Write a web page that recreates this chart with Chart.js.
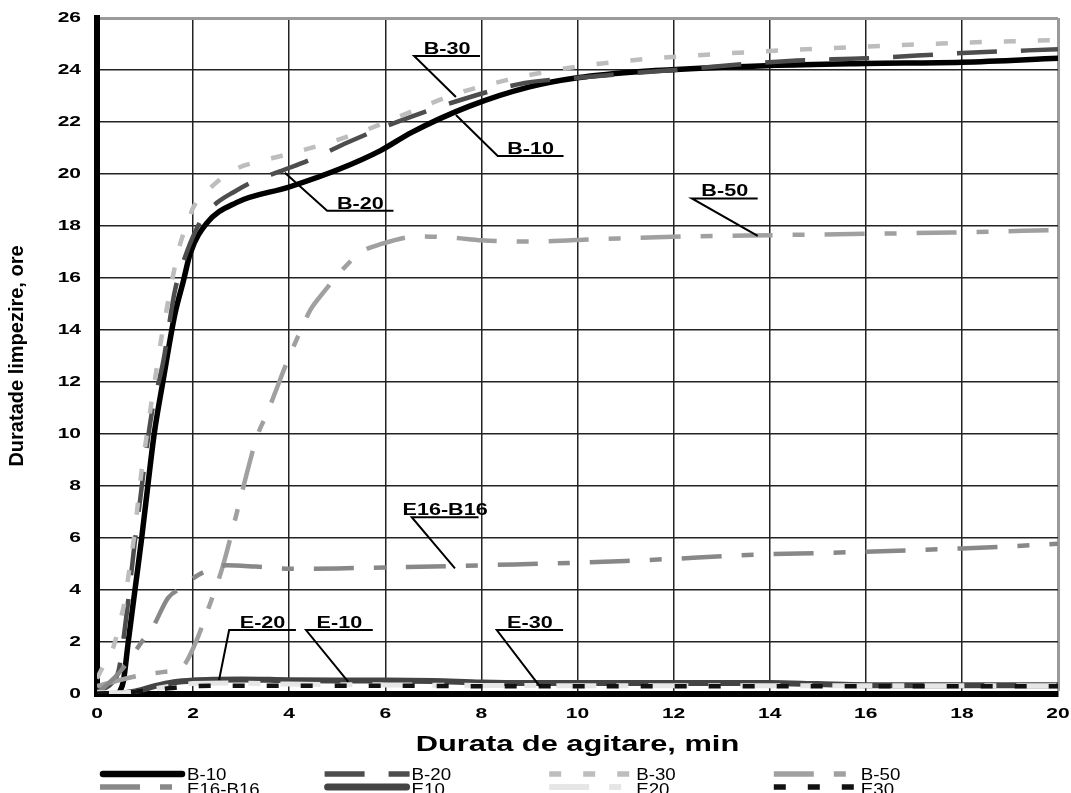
<!DOCTYPE html>
<html>
<head>
<meta charset="utf-8">
<script src="https://cdn.jsdelivr.net/npm/chart.js@4.4.1/dist/chart.umd.min.js"></script>
<style>
  html, body { margin: 0; padding: 0; background: #fff; }
  #wrap { width: 1071px; height: 793px; }
</style>
</head>
<body>
<div id="wrap"><canvas id="chart" width="1071" height="793"></canvas></div>
<script>
// tick values
const xTicks = [0, 2, 4, 6, 8, 10, 12, 14, 16, 18, 20];
const yTicks = [0, 2, 4, 6, 8, 10, 12, 14, 16, 18, 20, 22, 24, 26];

// series (x = minutes, y = hours)
const b10X = [0.45, 0.55, 0.65, 0.79, 0.93, 1.07, 1.19, 1.38, 1.62, 1.8, 1.94, 2.28, 2.9, 4.0, 5.06, 5.9, 6.55, 7.74, 9.0, 10.0, 11.4, 14, 16, 18, 20];
const b10Y = [0, 0.5, 2, 4, 6, 8.2, 10, 12.1, 14.6, 15.9, 16.95, 18.1, 18.9, 19.5, 20.2, 20.9, 21.6, 22.6, 23.35, 23.7, 23.95, 24.17, 24.25, 24.3, 24.45];

const b20X = [0, 0.3, 0.45, 0.55, 0.65, 0.79, 0.9, 1.0, 1.14, 1.38, 1.62, 1.87, 2.0, 2.21, 2.5, 2.84, 3.3, 3.88, 4.5, 5.2, 6.1, 7.4, 8.9, 10, 12, 14.4, 16, 18, 20];
const b20Y = [0.1, 0.4, 0.9, 2.1, 3.6, 5.9, 7.5, 9.0, 10.8, 12.8, 15.5, 17.0, 17.6, 18.35, 18.9, 19.3, 19.75, 20.15, 20.6, 21.2, 21.9, 22.75, 23.5, 23.7, 24.0, 24.35, 24.45, 24.65, 24.8];

const b30X = [0, 0.1, 0.34, 0.48, 0.58, 0.65, 0.79, 0.86, 0.93, 1.0, 1.07, 1.14, 1.24, 1.35, 1.45, 1.54, 1.73, 1.9, 2.0, 2.35, 2.84, 3.53, 4.16, 4.99, 5.75, 6.34, 7.5, 8.5, 9.55, 10.5, 11.6, 13.7, 16, 18, 20];
const b30Y = [0.6, 0.96, 1.8, 2.8, 3.6, 4.5, 6.3, 7.5, 8.6, 9.5, 10.4, 11.3, 12.5, 13.8, 14.8, 15.7, 17.3, 18.2, 18.7, 19.45, 20.15, 20.55, 20.85, 21.3, 21.8, 22.25, 23.1, 23.6, 24.0, 24.25, 24.45, 24.7, 24.9, 25.05, 25.15];

const b50X = [0, 0.5, 1.0, 1.4, 1.7, 1.83, 2.07, 2.32, 2.6, 2.9, 3.12, 3.33, 3.54, 3.75, 3.96, 4.17, 4.45, 4.65, 5.2, 5.5, 5.9, 6.7, 7.4, 8, 9, 10.5, 12.3, 14.1, 16, 17.8, 20];
const b50Y = [0.3, 0.55, 0.75, 0.85, 0.95, 1.15, 2.05, 3.3, 4.8, 6.9, 8.5, 9.9, 10.8, 11.8, 12.8, 13.7, 14.8, 15.3, 16.5, 17.0, 17.3, 17.6, 17.55, 17.45, 17.4, 17.5, 17.6, 17.65, 17.7, 17.75, 17.85];

const e16X = [0, 0.5, 0.93, 1.17, 1.48, 1.77, 2.04, 2.3, 2.7, 3.3, 4, 5, 6, 7, 8, 9, 10, 11, 12, 13, 14, 15, 16, 17, 18, 19, 20];
const e16Y = [0, 0.9, 2.0, 2.6, 3.7, 4.1, 4.5, 4.75, 4.95, 4.9, 4.82, 4.83, 4.87, 4.9, 4.95, 5.0, 5.05, 5.12, 5.2, 5.3, 5.38, 5.42, 5.47, 5.53, 5.6, 5.68, 5.78];

const e10X = [0, 0.5, 0.8, 1.2, 1.6, 2, 2.5, 3, 4, 5, 6, 7, 8, 9, 10, 12, 14, 15, 16, 18, 20];
const e10Y = [0, 0.02, 0.1, 0.3, 0.45, 0.52, 0.55, 0.56, 0.53, 0.52, 0.52, 0.5, 0.44, 0.42, 0.42, 0.42, 0.42, 0.38, 0.34, 0.34, 0.34];

const e20X = [0, 0.5, 0.8, 1.2, 1.6, 2, 3, 4, 6, 8, 10, 12, 14, 16, 18, 20];
const e20Y = [0.05, 0.05, 0.08, 0.2, 0.32, 0.4, 0.42, 0.38, 0.35, 0.33, 0.32, 0.32, 0.32, 0.32, 0.32, 0.32];

const e30X = [0, 0.5, 1, 1.5, 2, 3, 4, 6, 8, 10, 12, 14, 16, 18, 20];
const e30Y = [0.02, 0.05, 0.12, 0.22, 0.3, 0.32, 0.32, 0.32, 0.3, 0.3, 0.3, 0.3, 0.3, 0.3, 0.3];

// callout labels: underline from ux[0] to ux[1] at uy, leader to tip (all in data units)
const notes = [
  { text: 'B-30', ux: [6.6, 7.97], uy: 24.54, tip: [7.47, 22.96] },
  { text: 'B-10', ux: [8.34, 9.71], uy: 20.69, tip: [7.47, 22.27] },
  { text: 'B-20', ux: [4.79, 6.17], uy: 18.59, tip: [3.91, 20.05] },
  { text: 'B-50', ux: [12.38, 13.75], uy: 19.06, tip: [13.75, 17.62] },
  { text: 'E16-B16', ux: [6.55, 7.94], uy: 6.8, tip: [7.45, 4.83] },
  { text: 'E-20', ux: [2.75, 4.14], uy: 2.46, tip: [2.54, 0.54] },
  { text: 'E-10', ux: [4.35, 5.74], uy: 2.46, tip: [5.23, 0.47] },
  { text: 'E-30', ux: [8.32, 9.7], uy: 2.46, tip: [9.22, 0.28] }
];

function pts(xs, ys) {
  return xs.map((x, i) => ({ x: x, y: ys[i] }));
}

const series = [
  { label: 'B-10', data: pts(b10X, b10Y), color: '#000000', width: 5.5, dash: [], cap: 'round' },
  { label: 'B-20', data: pts(b20X, b20Y), color: '#4d4d4d', width: 4.5, dash: [40, 24], cap: 'butt' },
  { label: 'B-30', data: pts(b30X, b30Y), color: '#bdbdbd', width: 4.5, dash: [12, 22], cap: 'butt' },
  { label: 'B-50', data: pts(b50X, b50Y), color: '#a0a0a0', width: 4.5, dash: [40, 20, 12, 20], cap: 'butt' },
  { label: 'E16-B16', data: pts(e16X, e16Y), color: '#888888', width: 4.5, dash: [40, 20, 12, 20], cap: 'butt' },
  { label: 'E10', data: pts(e10X, e10Y), color: '#444444', width: 6, dash: [], cap: 'round' },
  { label: 'E20', data: pts(e20X, e20Y), color: '#e6e6e6', width: 5, dash: [40, 20, 12, 20], cap: 'butt' },
  { label: 'E30', data: pts(e30X, e30Y), color: '#111111', width: 4.5, dash: [12, 22], cap: 'butt' }
];

function stretchText(ctx, text, x, y, sx, align) {
  ctx.save();
  ctx.translate(x, y);
  ctx.scale(sx, 1);
  ctx.textAlign = align;
  ctx.fillText(text, 0, 0);
  ctx.restore();
}

// tick labels, axis titles, callouts and legend, drawn with the horizontal stretch of the original
const textPlugin = {
  id: 'textPlugin',
  afterDraw(chart) {
    const ctx = chart.ctx;
    const xs = chart.scales.x;
    const ys = chart.scales.y;
    const area = chart.chartArea;
    ctx.save();
    ctx.fillStyle = '#000';
    ctx.textBaseline = 'middle';

    ctx.font = 'bold 15px "Liberation Sans", Arial, sans-serif';
    yTicks.forEach(v => stretchText(ctx, String(v), 81, ys.getPixelForValue(v), 1.4, 'right'));
    xTicks.forEach(v => stretchText(ctx, String(v), xs.getPixelForValue(v), 714, 1.4, 'center'));

    ctx.font = 'bold 22px "Liberation Sans", Arial, sans-serif';
    stretchText(ctx, 'Durata de agitare, min', (area.left + area.right) / 2, 745, 1.4, 'center');

    ctx.save();
    ctx.translate(17, (area.top + area.bottom) / 2);
    ctx.rotate(-Math.PI / 2);
    ctx.font = 'bold 20px "Liberation Sans", Arial, sans-serif';
    ctx.textAlign = 'center';
    ctx.fillText('Duratade limpezire, ore', 0, 0);
    ctx.restore();

    // callouts
    ctx.strokeStyle = '#000';
    ctx.lineWidth = 2;
    ctx.font = 'bold 16px "Liberation Sans", Arial, sans-serif';
    ctx.textBaseline = 'alphabetic';
    notes.forEach(n => {
      const x0 = xs.getPixelForValue(n.ux[0]);
      const x1 = xs.getPixelForValue(n.ux[1]);
      const y = ys.getPixelForValue(n.uy);
      ctx.beginPath();
      ctx.moveTo(xs.getPixelForValue(n.tip[0]), ys.getPixelForValue(n.tip[1]));
      ctx.lineTo(x0, y);
      ctx.lineTo(x1, y);
      ctx.stroke();
      stretchText(ctx, n.text, (x0 + x1) / 2, y - 2, 1.35, 'center');
    });

    // legend
    ctx.textBaseline = 'middle';
    ctx.font = '17px "Liberation Sans", Arial, sans-serif';
    chart.data.datasets.forEach((ds, i) => {
      const col = i % 4;
      const row = Math.floor(i / 4);
      const lx = 100 + col * 224.6;
      const ly = row === 0 ? 774 : 787;
      ctx.save();
      ctx.strokeStyle = ds.borderColor;
      ctx.lineWidth = ds.borderWidth + 1;
      ctx.lineCap = ds.borderCapStyle;
      ctx.setLineDash(ds.borderDash);
      ctx.beginPath();
      ctx.moveTo(lx + (ds.borderCapStyle === 'round' ? 3 : 0), ly);
      ctx.lineTo(lx + 85 - (ds.borderCapStyle === 'round' ? 3 : 0), ly);
      ctx.stroke();
      ctx.restore();
      stretchText(ctx, ds.label, lx + 87, row === 0 ? 775 : 790, 1.1, 'left');
    });
    ctx.restore();
  }
};

new Chart(document.getElementById('chart'), {
  type: 'line',
  data: {
    datasets: series.map((s, i) => ({
      label: s.label,
      data: s.data,
      borderColor: s.color,
      backgroundColor: s.color,
      borderWidth: s.width,
      borderDash: s.dash,
      borderCapStyle: s.cap,
      borderJoinStyle: 'round',
      pointRadius: 0,
      tension: 0.4,
      cubicInterpolationMode: 'monotone',
      fill: false,
      order: series.length - i
    }))
  },
  options: {
    responsive: false,
    animation: false,
    events: [],
    layout: { padding: { left: 0, right: 13, top: 18, bottom: 34 } },
    plugins: {
      legend: { display: false },
      tooltip: { enabled: false }
    },
    scales: {
      x: {
        type: 'linear',
        min: 0,
        max: 20,
        afterBuildTicks: s => { s.ticks = xTicks.map(v => ({ value: v })); },
        afterFit: s => { s.height = 65; },
        ticks: { display: false },
        grid: {
          drawTicks: false,
          color: c => (c.tick && c.tick.value === 20 ? '#9a9a9a' : '#222'),
          lineWidth: c => (c.tick && c.tick.value === 20 ? 3 : 1.5)
        },
        border: { color: '#000', width: 6 }
      },
      y: {
        type: 'linear',
        min: 0,
        max: 26,
        afterBuildTicks: s => { s.ticks = yTicks.map(v => ({ value: v })); },
        afterFit: s => { s.width = 97; },
        ticks: { display: false },
        grid: {
          drawTicks: false,
          color: c => (c.tick && c.tick.value === 26 ? '#9a9a9a' : '#222'),
          lineWidth: c => (c.tick && c.tick.value === 26 ? 3 : 1.5)
        },
        border: { color: '#000', width: 6 }
      }
    }
  },
  plugins: [textPlugin]
});
</script>
</body>
</html>
